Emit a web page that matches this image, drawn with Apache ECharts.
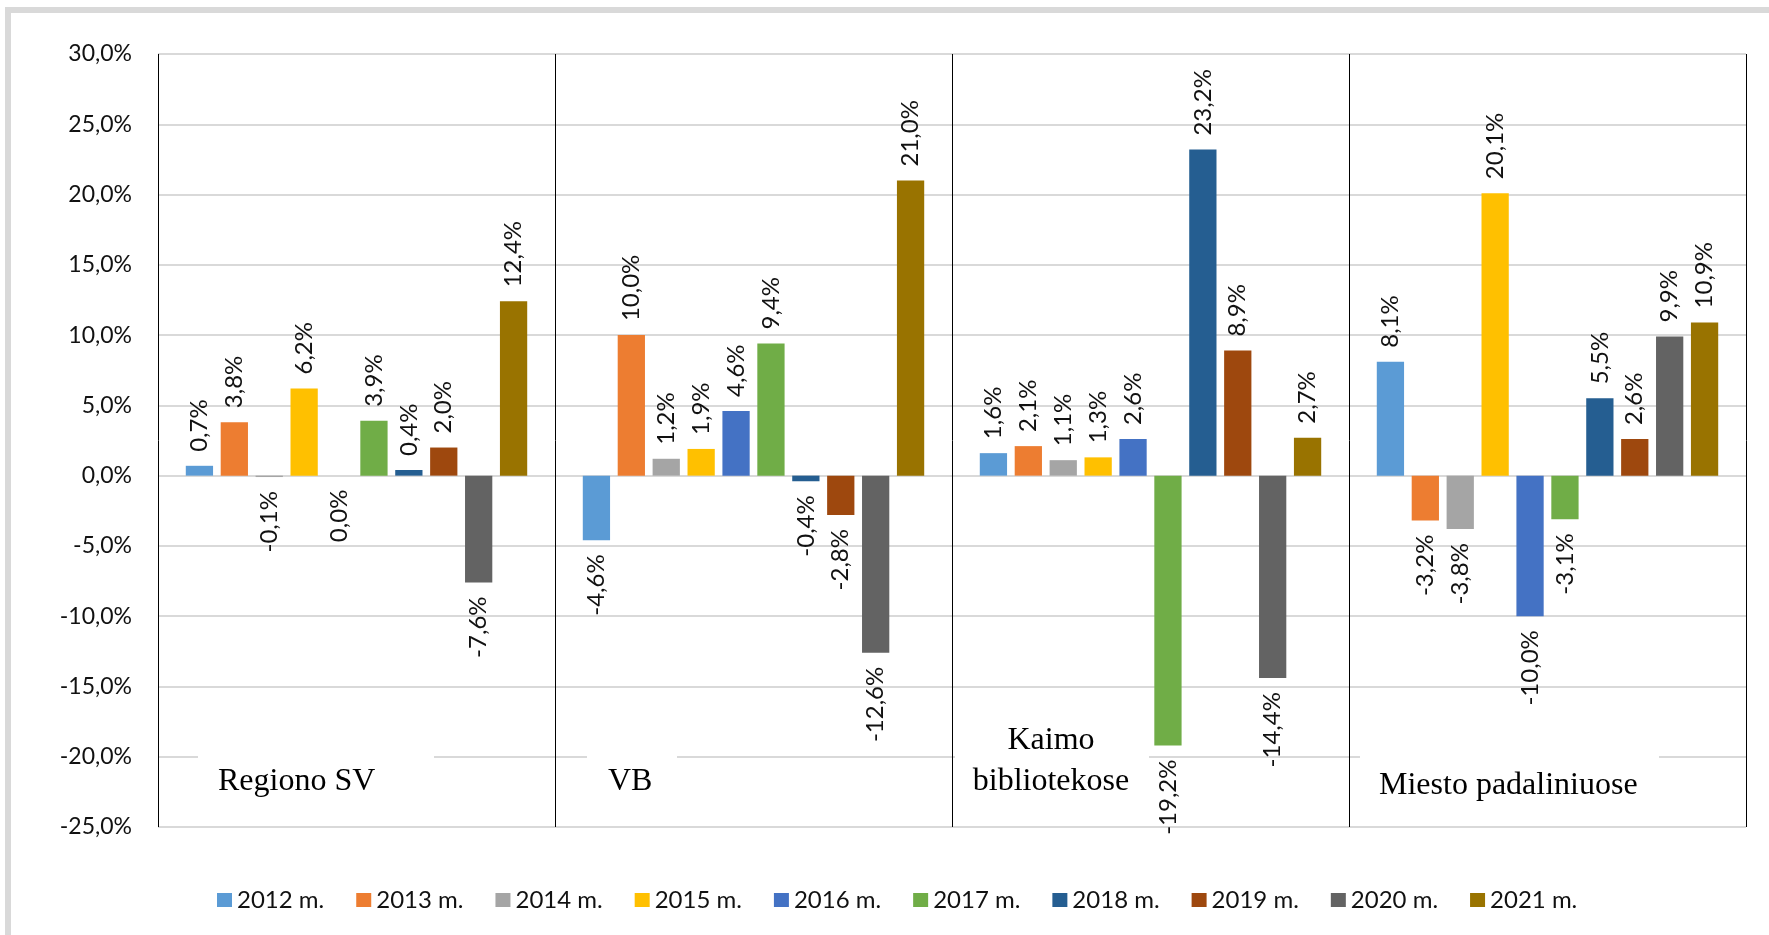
<!DOCTYPE html>
<html>
<head>
<meta charset="utf-8">
<script src="https://cdn.jsdelivr.net/npm/echarts@6/dist/echarts.min.js"></script>
<style>
  html, body { margin: 0; padding: 0; background: #fff; }
  #frame { position: absolute; left: 5px; top: 7px; width: 1780px; height: 950px;
           border-left: 6px solid #d9d9d9; border-top: 6px solid #d9d9d9; }
  #main { position: absolute; left: 0; top: 0; width: 1769px; height: 935px; }
</style>
</head>
<body>
<div id="frame"></div>
<div id="main"></div>
<script>
// categories (groups on the x axis) and years (series)
const categories = ['Regiono SV', 'VB', 'Kaimo bibliotekose', 'Miesto padaliniuose']
const years = ['2012 m.', '2013 m.', '2014 m.', '2015 m.', '2016 m.',
               '2017 m.', '2018 m.', '2019 m.', '2020 m.', '2021 m.']

// change in %, one value per category
const v2012 = [0.7, -4.6, 1.6, 8.1]
const v2013 = [3.8, 10.0, 2.1, -3.2]
const v2014 = [-0.1, 1.2, 1.1, -3.8]
const v2015 = [6.2, 1.9, 1.3, 20.1]
const v2016 = [0.0, 4.6, 2.6, -10.0]
const v2017 = [3.9, 9.4, -19.2, -3.1]
const v2018 = [0.4, -0.4, 23.2, 5.5]
const v2019 = [2.0, -2.8, 8.9, 2.6]
const v2020 = [-7.6, -12.6, -14.4, 9.9]
const v2021 = [12.4, 21.0, 2.7, 10.9]

const yTicks = { min: -25, max: 30, step: 5 }

const values = [v2012, v2013, v2014, v2015, v2016, v2017, v2018, v2019, v2020, v2021]
const colors = ['#5B9BD5', '#ED7D31', '#A5A5A5', '#FFC000', '#4472C4',
                '#70AD47', '#255E91', '#9E480E', '#636363', '#997300']

const sansFont = 'Lato'
const serifFont = 'Liberation Serif'

function pct(v) {
  return (Math.round(v * 10) / 10).toFixed(1).replace('.', ',') + '%'
}

const labelUp = {
  show: true, position: 'top', rotate: 90, align: 'left', verticalAlign: 'middle',
  distance: 14, color: '#111', fontFamily: sansFont, fontSize: 24,
  formatter: p => pct(p.value)
}
const labelDown = { position: 'bottom', align: 'right' }

const series = years.map((name, i) => ({
  name: name,
  type: 'bar',
  barGap: '28%',
  barCategoryGap: '14%',
  itemStyle: { color: colors[i] },
  label: labelUp,
  data: values[i].map(v => (v <= 0 ? { value: v, label: labelDown } : v))
}))

const chart = echarts.init(document.getElementById('main'))

chart.setOption({
  animation: false,
  grid: { left: 158, right: 23, top: 54, bottom: 108 },
  legend: {
    data: years,
    left: 212, top: 883,
    itemWidth: 15, itemHeight: 14, itemGap: 32,
    icon: 'rect',
    textStyle: { fontFamily: sansFont, fontSize: 24, color: '#111' }
  },
  xAxis: {
    type: 'category',
    data: categories,
    axisLine: { show: false },
    axisTick: { show: false },
    axisLabel: { show: false },
    splitLine: { show: true, lineStyle: { color: '#000', width: 1 } }
  },
  yAxis: {
    type: 'value',
    min: yTicks.min, max: yTicks.max, interval: yTicks.step,
    axisLine: { show: false },
    axisTick: { show: false },
    axisLabel: {
      margin: 26, color: '#111', fontFamily: sansFont, fontSize: 23,
      formatter: v => pct(v)
    },
    splitLine: { lineStyle: { color: '#d9d9d9', width: 2 } }
  },
  series: series
})

// category captions in white text boxes sitting on the -20% gridline
const yLine = chart.convertToPixel({ yAxisIndex: 0 }, -20)
const captionStyle = { fontFamily: serifFont, fontSize: 32, fill: '#000' }
const boxes = [
  { x: 198, w: 236 },
  { x: 587, w: 90 },
  { x: 955, w: 194 },
  { x: 1360, w: 299 }
]
const captions = [
  { text: 'Regiono SV', x: 218, y: yLine + 25, align: 'left' },
  { text: 'VB', x: 608, y: yLine + 25, align: 'left' },
  { text: 'Kaimo', x: 1051, y: yLine - 16, align: 'center' },
  { text: 'bibliotekose', x: 1051, y: yLine + 25, align: 'center' },
  { text: 'Miesto padaliniuose', x: 1379, y: yLine + 29, align: 'left' }
]
chart.setOption({
  graphic: boxes.map(b => ({
    type: 'rect', z: 50, silent: true,
    shape: { x: b.x, y: yLine - 8, width: b.w, height: 16 },
    style: { fill: '#fff' }
  })).concat(captions.map(c => ({
    type: 'text', z: 60, silent: true, x: c.x, y: c.y,
    style: Object.assign({ text: c.text, textAlign: c.align, textVerticalAlign: 'middle' }, captionStyle)
  })))
})
</script>
</body>
</html>
